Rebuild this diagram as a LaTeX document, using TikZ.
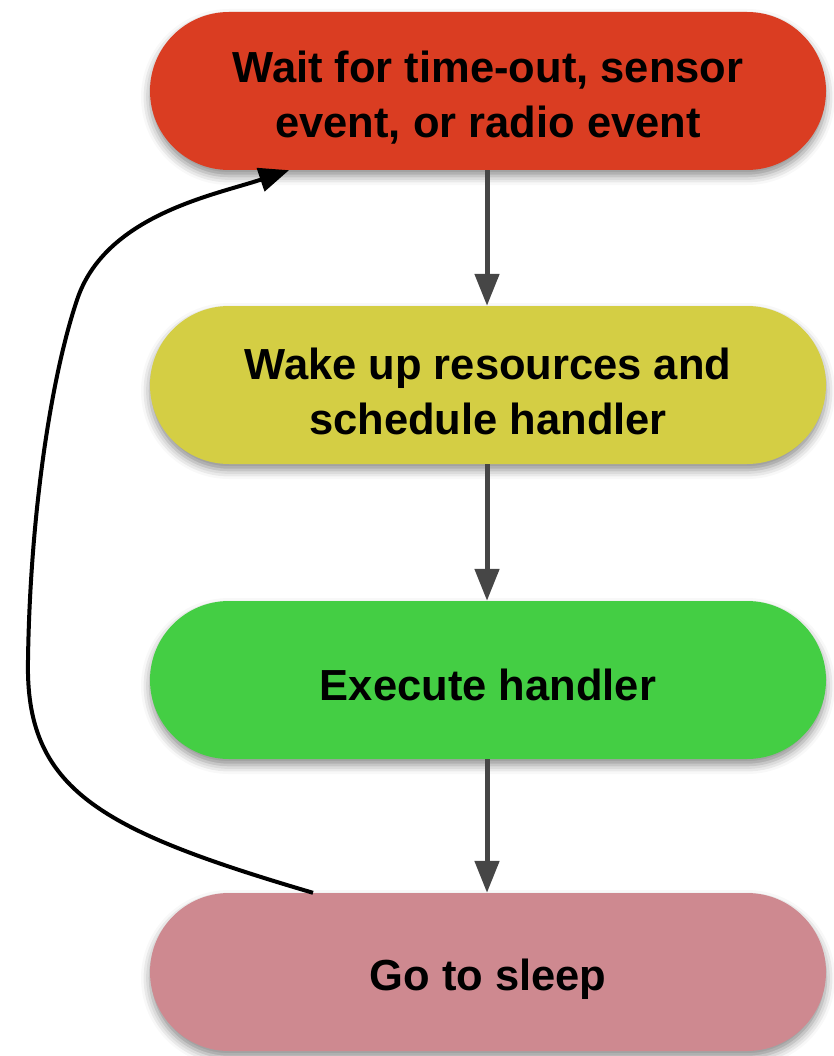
\documentclass[tikz,border=0pt]{standalone}
\usepackage{fontspec}
\setmainfont{Liberation Sans}
\usetikzlibrary{arrows.meta,shadows.blur}
\definecolor{cred}{HTML}{DA3D22}
\definecolor{cyellow}{HTML}{D4CE44}
\definecolor{cgreen}{HTML}{44CE44}
\definecolor{cpink}{HTML}{CE8990}
\definecolor{carrow}{HTML}{464646}
\begin{document}
\begin{tikzpicture}[x=1pt,y=-1pt,
  stepbox/.style={rectangle, rounded corners=79pt, minimum width=676pt, minimum height=158pt,
    inner sep=0pt,
    blur shadow={shadow xshift=0pt, shadow yshift=-6pt, shadow blur radius=9pt, shadow opacity=45}},
  boxtext/.style={align=center, inner sep=0pt, font=\fontsize{43.5}{55}\selectfont\bfseries},
  flow/.style={draw=carrow, line width=5pt, -{Triangle[width=24pt,length=32pt]}},
  loop/.style={draw=black, line width=4pt, -{Triangle[width=24pt,length=30pt]}}]
\useasboundingbox (0,0) rectangle (833,1056);
\node[stepbox, fill=cred] (wait) at (488,91) {};
\node[stepbox, fill=cyellow] (wake) at (488,385) {};
\node[stepbox, fill=cgreen] (exec) at (488,680) {};
\node[stepbox, fill=cpink] (sleep) at (488,972) {};
\node[boxtext] (waitt) at ([yshift=-7pt]wait.center) {Wait for time-out, sensor\\event, or radio event};
\node[boxtext] (waket) at ([yshift=-6pt]wake.center) {Wake up resources and\\schedule handler};
\node[boxtext] (exect) at ([yshift=-5pt]exec.center) {Execute handler};
\node[boxtext] (sleept) at ([yshift=-7pt]sleep.center) {Go to sleep};
\draw[flow] (wait.south -| 487,0) -- (wake.north -| 487,0);
\draw[flow] (wake.south -| 487,0) -- (exec.north -| 487,0);
\draw[flow] (exec.south -| 487,0) -- (sleep.north -| 487,0);
\coordinate (ls) at (sleep.north -| 313,0);
\coordinate (le) at (wait.south -| 289,0);
\draw[loop] (ls) .. controls (100,830) and (25,790) .. (28,660)
  .. controls (30,520) and (50,380) .. (77,300)
  .. controls (105,215) and (215,195) .. (le);
\end{tikzpicture}
\end{document}
